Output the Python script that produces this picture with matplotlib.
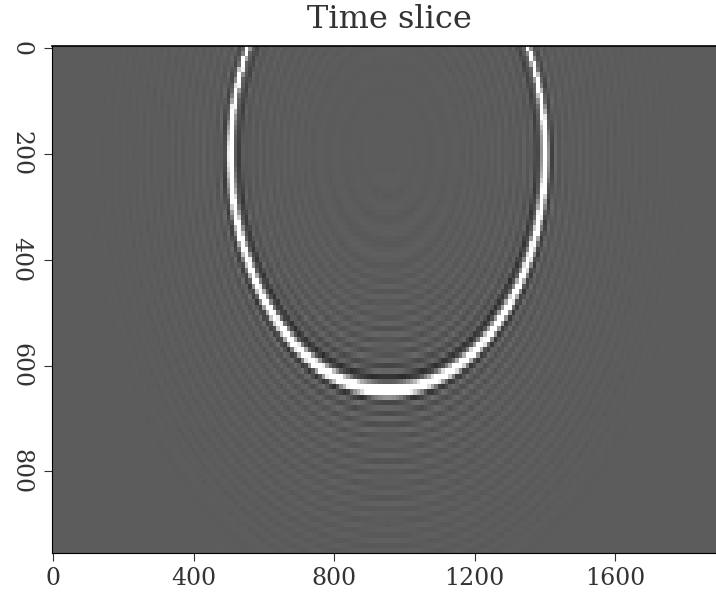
import numpy as np
import matplotlib
matplotlib.use('Agg')
import matplotlib.pyplot as plt

# Wavefront geometry
CENTER_X = 953.0
CENTER_Y = 200.0
RADIUS = 447.0
BACKGROUND = 92.0

# Ripple gray offset from the background against distance from the wavefront
ripple_offset = [-438, -415, -392, -369, -346, -323, -300, -277, -254, -231, -220, -208, -197, -185, -174,
                 -162, -151, -139, -128, -116, -105, -93, -82, -70, -59, -47, -36, -25, -12,
                 12, 19, 30, 42, 53, 65, 76, 88, 99, 111, 122, 134, 145, 157, 168, 180,
                 191, 203, 214, 226, 237, 249, 260, 272, 283, 295, 306, 318, 329, 341, 352, 364, 375, 400, 440, 480]
ripple_gray = [1, -1, 2, -2, 2, -3, 3, -4, 4, -5, 5, -6, 6, -7, 7,
               -8, 8, -10, 9, -12, 10, -14, 12, -17, 14, -24, 12, -50, 10,
               10, -45, 18, -20, 14, -15, 12, -12, 10, -10, 9, -9, 8, -8, 7, -7,
               6, -6, 6, -5, 5, -5, 5, -4, 4, -4, 3, -3, 3, -3, 2, -2, 2, -1, 1, 0]

# Main white crest: gray offset against distance in units of the local width
crest_offset = [-1.6, -1.0, -0.6, 0, 0.6, 1.0, 1.6]
crest_gray = [0, 70, 165, 215, 165, 70, 0]

# Against angle from straight down (degrees)
angle_stops = [0, 30, 60, 90, 120, 180]
far_weight = [1.0, 0.8, 0.5, 0.35, 0.3, 0.3]
near_weight = [1.0, 0.95, 0.85, 0.7, 0.5, 0.5]
crest_width = [11.5, 9.5, 8.5, 8.5, 5.0, 5.0]

x_ticks = [0, 400, 800, 1200, 1600]
y_ticks = [0, 200, 400, 600, 800]

xs = np.arange(0, 1900, 10.0)
ys = np.arange(0, 960, 10.0)
xx, yy = np.meshgrid(xs, ys)
dist = np.hypot(xx - CENTER_X, yy - CENTER_Y) - RADIUS
angle = np.degrees(np.arctan2(np.abs(xx - CENTER_X), yy - CENTER_Y))

# ripples are strong next to the crest and fade faster round the sides further out
weight = np.where(np.abs(dist) < 40, np.interp(angle, angle_stops, near_weight),
                  np.interp(angle, angle_stops, far_weight))
crest = np.interp(dist / np.interp(angle, angle_stops, crest_width), crest_offset, crest_gray)
field = BACKGROUND + np.interp(dist, ripple_offset, ripple_gray) * weight + crest

fig = plt.figure(figsize=(7.16, 5.92), dpi=100)
ax = fig.add_axes([52 / 716, 39 / 592, 664 / 716, 507 / 592])
ax.imshow(field, cmap='gray', vmin=0, vmax=255, aspect='auto', interpolation='nearest',
          extent=[-5, 1895, 955, -5])
ax.set_xlim(-3, 1887)
ax.set_ylim(954, -4)

font = {'family': 'DejaVu Serif', 'color': '#333333'}
ax.set_xticks(x_ticks)
ax.set_yticks(y_ticks)
ax.set_xticklabels([str(t) for t in x_ticks], fontsize=17, **font)
ax.set_yticklabels([str(t) for t in y_ticks], fontsize=17, rotation=270, va='center', **font)
ax.tick_params(length=6, width=0.8, color='#333333', pad=4)
ax.tick_params(axis='y', pad=8)
ax.spines['right'].set_visible(False)
ax.spines['left'].set_linewidth(0.8)
ax.spines['bottom'].set_linewidth(0.8)
ax.spines['top'].set_linewidth(1.2)
fig.text(389 / 716, 1 - 19 / 592, 'Time slice', ha='center', va='center', fontsize=23, **font)

fig.savefig('out.png', dpi=100)
plt.close(fig)
